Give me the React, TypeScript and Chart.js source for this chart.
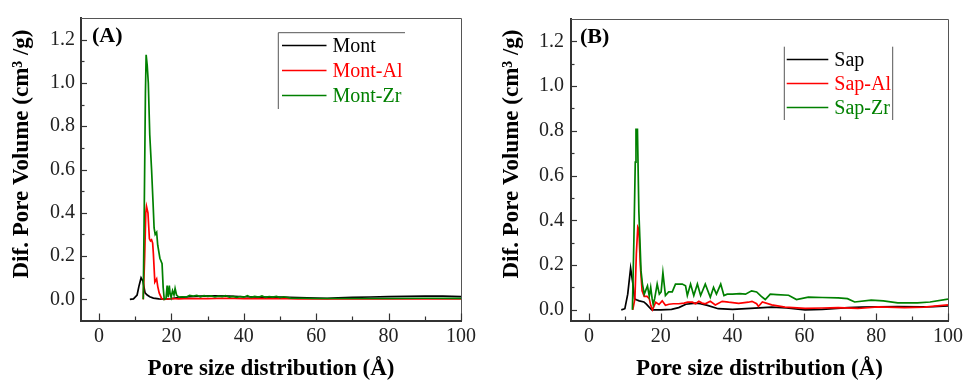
import React, { useEffect, useRef } from 'react';
import { Chart, registerables } from 'chart.js';

Chart.register(...registerables);

const FONT = '"Liberation Serif", "Times New Roman", serif';

// ---------- Panel A: Montmorillonite ----------
const montX = [8.5, 9.5, 10.5, 11.0, 11.6, 12.1, 12.7, 13.3, 14.0, 15.0, 16.5, 18, 20, 22, 25, 28, 32, 36, 40, 45, 50, 55, 60, 63, 66, 70, 75, 80, 85, 90, 95, 100];
const montY = [0, 0.002, 0.02, 0.06, 0.1, 0.085, 0.03, 0.02, 0.012, 0.006, 0.002, 0.001, 0.003, 0.008, 0.012, 0.015, 0.016, 0.015, 0.012, 0.01, 0.01, 0.008, 0.006, 0.005, 0.007, 0.009, 0.011, 0.013, 0.014, 0.015, 0.015, 0.013];

const montAlX = [12.2, 12.6, 12.9, 13.1, 13.5, 13.9, 14.2, 14.5, 14.8, 15.0, 15.4, 15.9, 16.2, 16.6, 17.3, 18, 20, 22, 25, 30, 35, 40, 45, 50, 52, 55, 60, 70, 80, 90, 100];
const montAlY = [0, 0.2, 0.4, 0.43, 0.4, 0.28, 0.27, 0.275, 0.26, 0.21, 0.08, 0.095, 0.06, 0.03, 0.003, 0, 0.004, 0.002, 0.004, 0.003, 0.005, 0.003, 0.004, 0.003, 0.003, 0.002, 0.002, 0.002, 0.002, 0.002, 0.002];

const montZrX = [12.2, 12.5, 12.8, 13.0, 13.3, 13.6, 14.0, 14.5, 14.9, 15.2, 15.5, 15.9, 16.2, 16.8, 17.4, 17.7, 18.0, 18.5, 18.8, 19.1, 19.4, 19.6, 19.9, 20.3, 20.7, 21.0, 21.4, 22.0, 23, 24, 25, 26, 27, 28, 29, 30, 31, 32, 33, 34, 35, 36, 37, 38, 39, 40, 41, 42, 43, 44, 45, 46, 47, 48, 49, 50, 51, 53, 56, 60, 70, 80, 90, 100];
const montZrY = [0, 0.45, 0.95, 1.13, 1.08, 1.0, 0.76, 0.6, 0.45, 0.33, 0.3, 0.31, 0.25, 0.19, 0.165, 0.056, 0.0, 0.005, 0.064, 0.01, 0.064, 0.03, 0.01, 0.04, 0.02, 0.05, 0.02, 0.01, 0.012, 0.01, 0.018, 0.015, 0.018, 0.012, 0.017, 0.014, 0.016, 0.011, 0.015, 0.013, 0.017, 0.01, 0.014, 0.009, 0.013, 0.01, 0.017, 0.009, 0.014, 0.01, 0.016, 0.009, 0.013, 0.01, 0.014, 0.008, 0.012, 0.006, 0.005, 0.004, 0.004, 0.004, 0.005, 0.005];

// ---------- Panel B: Saponite ----------
const sapX = [9.0, 10.0, 10.8, 11.6, 12.2, 12.7, 13.2, 14.0, 15.3, 16.0, 16.7, 17.5, 20, 23, 25, 27, 29.7, 31, 33, 36, 40, 45, 50.9, 55, 60.2, 65, 72.2, 76, 80.5, 86, 92.5, 96, 100];
const sapY = [0, 0.005, 0.07, 0.186, 0.12, 0.049, 0.045, 0.04, 0.035, 0.025, 0.013, 0.0, 0.0, 0.002, 0.01, 0.025, 0.03, 0.028, 0.02, 0.005, 0.002, 0.006, 0.012, 0.008, 0.0, 0.002, 0.01, 0.012, 0.013, 0.014, 0.013, 0.014, 0.018];

const sapAlX = [12.2, 12.8, 13.2, 13.6, 13.9, 14.3, 14.8, 15.4, 16.2, 16.8, 17.2, 17.7, 18.6, 19.5, 20.4, 21.3, 22.3, 23.5, 25, 26.5, 27.5, 28.8, 29.7, 30.6, 31.5, 32.4, 33.8, 35.2, 37.1, 38.9, 41.7, 44.4, 45.4, 46.7, 47.2, 48.3, 50.9, 54.6, 60.2, 65, 69.4, 74.9, 80.5, 87.9, 93.4, 100];
const sapAlY = [0, 0.05, 0.25, 0.37, 0.36, 0.2, 0.085, 0.06, 0.06, 0.05, 0.02, 0.0, 0.034, 0.024, 0.04, 0.02, 0.025, 0.027, 0.027, 0.03, 0.034, 0.034, 0.027, 0.038, 0.03, 0.027, 0.038, 0.022, 0.038, 0.034, 0.029, 0.034, 0.038, 0.027, 0.015, 0.035, 0.022, 0.012, 0.006, 0.008, 0.01, 0.006, 0.013, 0.01, 0.012, 0.022];

const sapZrX = [12.1, 12.5, 12.9, 13.1, 13.3, 13.5, 13.9, 14.5, 14.9, 15.4, 16.3, 16.8, 17.2, 17.6, 17.9, 18.3, 19.0, 19.6, 20.1, 20.6, 21.3, 22.2, 23.2, 24.1, 26.0, 26.9, 27.4, 28.3, 29.2, 30.2, 31.1, 32.4, 33.8, 34.7, 35.5, 36.7, 37.6, 38.5, 40, 42, 43.6, 45.3, 46.7, 48, 49.1, 50.5, 52.3, 55.6, 57.8, 61.1, 65, 69.4, 72, 74, 78.6, 82, 86, 91.5, 95, 100];
const sapZrY = [0, 0.3, 0.66, 0.81, 0.75, 0.81, 0.44, 0.174, 0.115, 0.07, 0.107, 0.06, 0.1, 0.05, 0.024, 0.05, 0.115, 0.07, 0.08, 0.166, 0.064, 0.08, 0.08, 0.115, 0.115, 0.107, 0.064, 0.115, 0.064, 0.115, 0.064, 0.115, 0.056, 0.1, 0.07, 0.115, 0.064, 0.07, 0.07, 0.072, 0.07, 0.085, 0.08, 0.06, 0.046, 0.07, 0.068, 0.065, 0.046, 0.057, 0.055, 0.053, 0.05, 0.035, 0.043, 0.04, 0.031, 0.031, 0.035, 0.048];

// ---------- Axes ----------
const xMin = -5;
const xMax = 100;
const yMax = 1.3;
const xTicks = [0, 20, 40, 60, 80, 100];
const xMinorTicks = [10, 30, 50, 70, 90];
const yTicks = [0, 0.2, 0.4, 0.6, 0.8, 1.0, 1.2];
const yMinorTicks = [0.1, 0.3, 0.5, 0.7, 0.9, 1.1];
const yTitle = 'Dif. Pore Volume (cm³ /g)';
const xTitle = 'Pore size distribution (Å)';

const BLACK = '#000000';
const RED = '#ff0000';
const GREEN = '#008000';

const panelA = {
  left: 0,
  padTop: 15,
  padRight: 19,
  yAxisWidth: 81,
  xAxisHeight: 62,
  yMin: -0.1,
  yLabelPad: 6,
  yTitleX: 22,
  yTitleY: 154,
  label: '(A)',
  labelX: 92,
  labelY: 36,
  legend: { kind: 'topLeft', x0: 278.3, y0: 32.7, x1: 405, y1: 109, lineX1: 282, lineX2: 326.5, textX: 332.5, rows: [47, 72, 97] },
  series: [
    { name: 'Mont', xs: montX, ys: montY, color: BLACK },
    { name: 'Mont-Al', xs: montAlX, ys: montAlY, color: RED },
    { name: 'Mont-Zr', xs: montZrX, ys: montZrY, color: GREEN },
  ],
};

const panelB = {
  left: 487,
  padTop: 15,
  padRight: 17,
  yAxisWidth: 84,
  xAxisHeight: 62,
  yMin: -0.05,
  yLabelPad: 7,
  yTitleX: 25,
  yTitleY: 154,
  label: '(B)',
  labelX: 93,
  labelY: 37,
  legend: { kind: 'sides', x0: 297.3, y0: 46.7, x1: 405.7, y1: 120, lineX1: 299.7, lineX2: 341.3, textX: 347.3, rows: [61, 85, 109] },
  series: [
    { name: 'Sap', xs: sapX, ys: sapY, color: BLACK },
    { name: 'Sap-Al', xs: sapAlX, ys: sapAlY, color: RED },
    { name: 'Sap-Zr', xs: sapZrX, ys: sapZrY, color: GREEN },
  ],
};

function drawDecor(chart: any, cfg: any) {
  const ctx = chart.ctx as CanvasRenderingContext2D;
  const area = chart.chartArea;
  const xs = chart.scales.x;
  const ys = chart.scales.y;
  ctx.save();

  // top and right frame
  ctx.strokeStyle = '#555';
  ctx.lineWidth = 1;
  ctx.beginPath();
  ctx.moveTo(area.left, area.top + 0.5);
  ctx.lineTo(area.right + 0.5, area.top + 0.5);
  ctx.lineTo(area.right + 0.5, area.bottom);
  ctx.stroke();

  // inward ticks
  ctx.strokeStyle = '#333';
  ctx.lineWidth = 1.2;
  const tick = (x1: number, y1: number, x2: number, y2: number) => {
    ctx.beginPath();
    ctx.moveTo(x1, y1);
    ctx.lineTo(x2, y2);
    ctx.stroke();
  };
  xTicks.forEach((v) => {
    const p = Math.round(xs.getPixelForValue(v)) + 0.5;
    tick(p, area.bottom, p, area.bottom - 7.5);
  });
  xMinorTicks.forEach((v) => {
    const p = Math.round(xs.getPixelForValue(v)) + 0.5;
    tick(p, area.bottom, p, area.bottom - 4.5);
  });
  yTicks.forEach((v) => {
    const p = Math.round(ys.getPixelForValue(v)) + 0.5;
    tick(area.left, p, area.left + 6, p);
  });
  yMinorTicks.forEach((v) => {
    const p = Math.round(ys.getPixelForValue(v)) + 0.5;
    tick(area.left, p, area.left + 3.5, p);
  });

  // y title
  ctx.fillStyle = '#000';
  ctx.font = `bold 23px ${FONT}`;
  ctx.textAlign = 'center';
  ctx.textBaseline = 'middle';
  ctx.save();
  ctx.translate(cfg.yTitleX, cfg.yTitleY);
  ctx.rotate(-Math.PI / 2);
  ctx.fillText(yTitle, 0, 0);
  ctx.restore();

  // panel label
  ctx.textAlign = 'left';
  ctx.font = `bold 22px ${FONT}`;
  ctx.fillText(cfg.label, cfg.labelX, cfg.labelY);

  // legend
  const lg = cfg.legend;
  ctx.strokeStyle = '#555';
  ctx.lineWidth = 1;
  ctx.beginPath();
  if (lg.kind === 'topLeft') {
    ctx.moveTo(lg.x0, lg.y1);
    ctx.lineTo(lg.x0, lg.y0);
    ctx.lineTo(lg.x1, lg.y0);
  } else {
    ctx.moveTo(lg.x0, lg.y0);
    ctx.lineTo(lg.x0, lg.y1);
    ctx.moveTo(lg.x1, lg.y0);
    ctx.lineTo(lg.x1, lg.y1);
  }
  ctx.stroke();
  ctx.font = `20px ${FONT}`;
  cfg.series.forEach((s: any, i: number) => {
    const y = lg.rows[i];
    ctx.strokeStyle = s.color;
    ctx.lineWidth = 1.6;
    ctx.beginPath();
    ctx.moveTo(lg.lineX1, y - 1.5);
    ctx.lineTo(lg.lineX2, y - 1.5);
    ctx.stroke();
    ctx.fillStyle = s.color;
    ctx.fillText(s.name, lg.textX, y);
  });
  ctx.restore();
}

function PanelChart({ cfg }: { cfg: any }) {
  const ref = useRef<HTMLCanvasElement>(null);
  useEffect(() => {
    if (!ref.current) return;
    const decor = {
      id: 'decor',
      afterDraw(chart: any) {
        drawDecor(chart, cfg);
      },
    };
    const n = cfg.series.length;
    const chart = new Chart(ref.current, {
      type: 'line',
      data: {
        datasets: cfg.series.map((s: any, i: number) => ({
          label: s.name,
          data: s.xs.map((x: number, j: number) => ({ x, y: s.ys[j] })),
          borderColor: s.color,
          backgroundColor: s.color,
          borderWidth: 1.7,
          pointRadius: 0,
          tension: 0,
          fill: false,
          order: n - i,
        })),
      },
      options: {
        animation: false,
        responsive: false,
        devicePixelRatio: 1,
        events: [],
        layout: { padding: { top: cfg.padTop, right: cfg.padRight, left: 0, bottom: 0 } },
        plugins: { legend: { display: false }, tooltip: { enabled: false } },
        scales: {
          x: {
            type: 'linear',
            min: xMin,
            max: xMax,
            afterBuildTicks: (s: any) => {
              s.ticks = xTicks.map((v) => ({ value: v }));
            },
            afterFit: (s: any) => {
              s.height = cfg.xAxisHeight;
            },
            grid: { display: false, drawTicks: false },
            border: { display: true, color: '#333', width: 2 },
            ticks: {
              font: { family: FONT, size: 20 },
              color: '#222',
              padding: 4,
              maxRotation: 0,
              autoSkip: false,
              callback: (v: any) => String(v),
            },
            title: {
              display: true,
              text: xTitle,
              font: { family: FONT, size: 23, weight: 'bold' },
              color: '#000',
              padding: { top: 0, bottom: 0 },
            },
          },
          y: {
            type: 'linear',
            min: cfg.yMin,
            max: yMax,
            afterBuildTicks: (s: any) => {
              s.ticks = yTicks.map((v) => ({ value: v }));
            },
            afterFit: (s: any) => {
              s.width = cfg.yAxisWidth;
            },
            grid: { display: false, drawTicks: false },
            border: { display: true, color: '#333', width: 2 },
            ticks: {
              font: { family: FONT, size: 20 },
              color: '#222',
              padding: cfg.yLabelPad,
              autoSkip: false,
              callback: (v: any) => Number(v).toFixed(1),
            },
            title: { display: false },
          },
        },
      },
      plugins: [decor],
    } as any);
    return () => chart.destroy();
  }, []);
  return (
    <canvas
      ref={ref}
      width={480}
      height={383}
      style={{ position: 'absolute', left: cfg.left, top: 0, width: 480, height: 383 }}
    />
  );
}

export default function App() {
  return (
    <div
      style={{
        position: 'absolute',
        left: 0,
        top: 0,
        width: 967,
        height: 383,
        background: '#ffffff',
        overflow: 'hidden',
      }}
    >
      <PanelChart cfg={panelA} />
      <PanelChart cfg={panelB} />
    </div>
  );
}
